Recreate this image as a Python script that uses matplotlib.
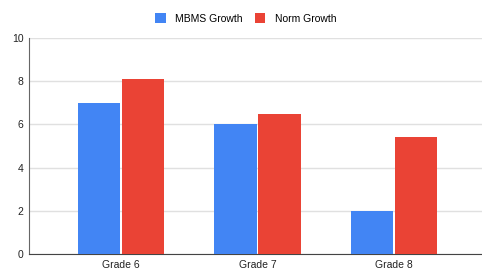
import numpy as np
import matplotlib.pyplot as plt

grades = ["Grade 6", "Grade 7", "Grade 8"]
mbms_growth = [7.0, 6.0, 2.0]
norm_growth = [8.1, 6.5, 5.4]

plt.rcParams["font.family"] = ["Liberation Sans", "DejaVu Sans"]

fig = plt.figure(figsize=(4.82, 2.69), dpi=100)
ax = fig.add_axes([29 / 482, 15 / 269, 457 / 482, 216 / 269])

x = np.arange(len(grades))
w = 0.31
ax.bar(x - 0.162, mbms_growth, w, color="#4285F4", label="MBMS Growth", zorder=3)
ax.bar(x + 0.162, norm_growth, w, color="#EA4335", label="Norm Growth", zorder=3)

ax.set_xlim(-0.674, 2.674)
ax.set_ylim(0, 10)
ax.set_yticks([0, 2, 4, 6, 8, 10])
ax.set_xticks(x)
ax.set_xticklabels(grades)
ax.tick_params(axis="both", length=0, labelsize=7.5, colors="#222222", pad=4)
ax.grid(axis="y", color="#e0e0e0", linewidth=1, zorder=0)

for s in ["top", "right"]:
    ax.spines[s].set_visible(False)
ax.spines["left"].set_color("#666666")
ax.spines["bottom"].set_color("#444444")

fig.legend(loc="upper center", bbox_to_anchor=(0.51, 0.985), ncol=2, frameon=False,
           fontsize=7.5, handlelength=1.0, handleheight=1.0, columnspacing=1.2,
           handletextpad=0.9)

fig.savefig("out.png", dpi=100)
